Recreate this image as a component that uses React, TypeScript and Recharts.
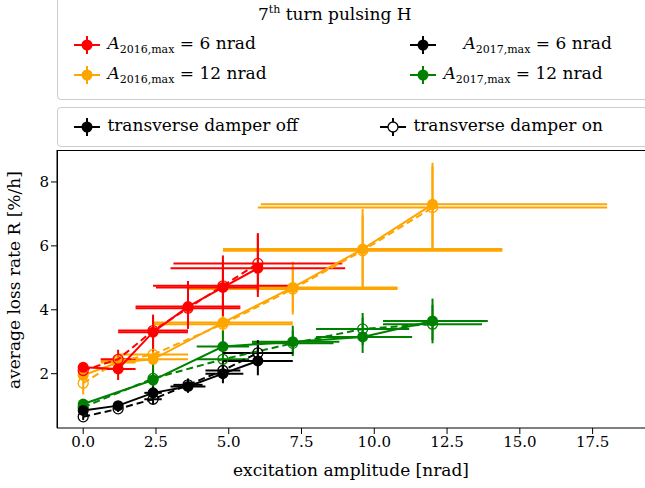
import React from 'react';
import { ComposedChart, Scatter, XAxis, YAxis, ErrorBar } from 'recharts';

const RED = '#ff0000', ORANGE = '#ffa500', GREEN = '#008000', BLACK = '#000000';
// x, y, xerr [lo,hi], yerr [lo,hi]
const red16Off = [
  [0, 2.2, 0, 0.12, 0.12], [1.2, 2.15, 0.6, 0.6, 0.35, 0.4], [2.4, 3.3, 1.2, 1.2, 0.6, 0.5],
  [3.6, 4.1, 1.8, 1.8, 0.7, 0.8], [4.8, 4.7, 2.3, 1.2, 0.9, 1.0], [6.0, 5.3, 3.0, 3.0, 0.9, 1.1],
];
const red16On = [
  [0, 2.1, 0, 0, 0.1, 0.1], [1.2, 2.45, 0.6, 0.6, 0.3, 0.3], [2.4, 3.35, 1.2, 1.2, 0.5, 0.5],
  [3.6, 4.05, 1.8, 1.8, 0.6, 0.6], [4.8, 4.75, 2.4, 2.4, 0.8, 0.8], [6.0, 5.45, 2.9, 2.9, 0.9, 0.9],
];
const or16Off = [
  [0, 1.95, 0, 0, 0.2, 0.2], [1.2, 2.35, 0.6, 0.6, 0.2, 0.2], [2.4, 2.45, 1.2, 1.2, 0.35, 0.45],
  [4.8, 3.6, 2.4, 2.4, 0.5, 1.2], [7.2, 4.7, 3.6, 3.6, 0.85, 0.8], [9.6, 5.9, 4.8, 4.8, 1.2, 1.25],
  [12.0, 7.3, 5.9, 6.0, 1.4, 1.3],
];
const or16On = [
  [0, 1.7, 0, 0, 0.35, 0.35], [1.2, 2.4, 0.6, 0.6, 0.2, 0.2], [2.4, 2.6, 1.2, 1.2, 0.3, 0.3],
  [4.8, 3.55, 2.4, 2.4, 0.4, 0.4], [7.2, 4.65, 3.6, 3.6, 0.7, 0.7], [9.6, 5.85, 4.8, 4.8, 1.1, 1.1],
  [12.0, 7.2, 6.0, 6.0, 1.3, 1.3],
];
const gr17Off = [
  [0, 1.05, 0, 0, 0.1, 0.1], [2.4, 1.8, 0, 0, 0.3, 0.55], [4.8, 2.85, 0.9, 0.9, 0.3, 0.5],
  [7.2, 3.0, 1.4, 1.6, 0.4, 0.5], [9.6, 3.15, 1.6, 1.7, 0.5, 0.6], [12.0, 3.65, 1.7, 1.9, 0.6, 0.7],
];
const gr17On = [
  [0, 0.95, 0, 0, 0.1, 0.1], [2.4, 1.85, 0, 0, 0.3, 0.3], [4.8, 2.45, 0.9, 0.9, 0.3, 0.3],
  [7.2, 2.95, 1.4, 1.4, 0.4, 0.4], [9.6, 3.4, 1.6, 1.6, 0.5, 0.5], [12.0, 3.55, 1.7, 1.7, 0.6, 0.6],
];
const bk17Off = [
  [0, 0.85, 0, 0, 0.1, 0.1], [1.2, 1.0, 0, 0, 0.1, 0.1], [2.4, 1.4, 0.3, 0.3, 0.2, 0.2],
  [3.6, 1.6, 0.6, 0.6, 0.2, 0.2], [4.8, 2.0, 0.6, 0.7, 0.3, 0.3], [6.0, 2.4, 1.2, 1.2, 0.45, 0.5],
];
const bk17On = [
  [0, 0.65, 0, 0, 0.1, 0.1], [1.2, 0.9, 0, 0, 0.1, 0.1], [2.4, 1.2, 0.3, 0.3, 0.15, 0.15],
  [3.6, 1.65, 0.5, 0.5, 0.2, 0.2], [4.8, 2.1, 0.6, 0.6, 0.3, 0.3], [6.0, 2.65, 1.2, 1.2, 0.4, 0.4],
];
const xTicks = [0, 2.5, 5, 7.5, 10, 12.5, 15, 17.5];
const yTicks = [2, 4, 6, 8];

const toRows = (a: number[][]) =>
  a.map((r) => r.length === 5
    ? { x: r[0], y: r[1], ex: [r[2], r[2]], ey: [r[3], r[4]] }
    : { x: r[0], y: r[1], ex: [r[2], r[3]], ey: [r[4], r[5]] });

const font = "'DejaVu Serif', serif";

const filled = (c: string) => (p: any) => <circle cx={p.cx} cy={p.cy} r={5.5} fill={c} />;
const open = (c: string) => (p: any) => <circle cx={p.cx} cy={p.cy} r={5} fill="none" stroke={c} strokeWidth={1.3} />;

const series = [
  { d: or16Off, c: ORANGE, on: false }, { d: or16On, c: ORANGE, on: true },
  { d: red16Off, c: RED, on: false }, { d: red16On, c: RED, on: true },
  { d: gr17Off, c: GREEN, on: false }, { d: gr17On, c: GREEN, on: true },
  { d: bk17Off, c: BLACK, on: false }, { d: bk17On, c: BLACK, on: true },
];

const Mark = ({ c, openM }: { c: string; openM?: boolean }) => (
  <svg width={30} height={20} style={{ verticalAlign: 'middle' }}>
    <line x1={2} x2={28} y1={10} y2={10} stroke={c} strokeWidth={2} />
    <line x1={15} x2={15} y1={1} y2={19} stroke={c} strokeWidth={2} />
    {openM ? <circle cx={15} cy={10} r={5} fill="white" stroke={c} strokeWidth={1.3} /> : <circle cx={15} cy={10} r={5.5} fill={c} />}
  </svg>
);

const A = ({ y, v }: { y: string; v: string }) => (
  <span><i>A</i><sub style={{ fontSize: 11 }}>{y},max</sub> = {v} nrad</span>
);

export default function App() {
  return (
    <div style={{ position: 'absolute', left: 0, top: 0, width: 645, height: 488, fontFamily: font, background: '#fff', overflow: 'hidden' }}>
      <div style={{ position: 'absolute', left: 57, top: -4, width: 600, height: 102, border: '1px solid #ccc', borderRadius: 4, fontSize: 17 }}>
        <div style={{ position: 'absolute', left: 200, top: 6 }}>7<sup style={{ fontSize: 11 }}>th</sup> turn pulsing H</div>
        <div style={{ position: 'absolute', left: 14, top: 36 }}><Mark c={RED} /> <A y="2016" v="6" /></div>
        <div style={{ position: 'absolute', left: 14, top: 66 }}><Mark c={ORANGE} /> <A y="2016" v="12" /></div>
        <div style={{ position: 'absolute', left: 350, top: 36 }}><Mark c={BLACK} /> <span style={{ marginLeft: 20 }}><A y="2017" v="6" /></span></div>
        <div style={{ position: 'absolute', left: 350, top: 66 }}><Mark c={GREEN} /> <A y="2017" v="12" /></div>
      </div>
      <div style={{ position: 'absolute', left: 57, top: 107, width: 600, height: 38, border: '1px solid #ccc', borderRadius: 4, fontSize: 17 }}>
        <div style={{ position: 'absolute', left: 14, top: 7 }}><Mark c={BLACK} /> transverse damper off</div>
        <div style={{ position: 'absolute', left: 320, top: 7 }}><Mark c={BLACK} openM /> transverse damper on</div>
      </div>
      <ComposedChart width={645} height={488} margin={{ top: 150, right: 0, bottom: 30, left: 0 }} style={{ position: 'absolute', left: 0, top: 0 }}>
        <XAxis type="number" dataKey="x" domain={[-0.9, 19.3]} ticks={xTicks} allowDataOverflow height={30}
          tickFormatter={(v: number) => v.toFixed(1)} stroke="#000" tick={{ fill: '#000', fontSize: 15, fontFamily: font }}
          label={{ value: 'excitation amplitude [nrad]', position: 'insideBottom', offset: -18, fill: '#000', fontSize: 17, fontFamily: font, dx: 0 }} />
        <YAxis type="number" dataKey="y" domain={[0.3, 9.0]} ticks={yTicks} allowDataOverflow width={57}
          stroke="#000" tick={{ fill: '#000', fontSize: 15, fontFamily: font }}
          label={{ value: 'average loss rate R [%/h]', angle: -90, position: 'insideLeft', offset: 14, fill: '#000', fontSize: 17, fontFamily: font, dy: 100 }} />
        {series.map((s, i) => (
          <Scatter key={i} data={toRows(s.d)} fill={s.c} isAnimationActive={false}
            line={{ stroke: s.c, strokeWidth: 2, strokeDasharray: s.on ? '7 4' : undefined }}
            shape={s.on ? open(s.c) : filled(s.c)}>
            <ErrorBar dataKey="ex" direction="x" stroke={s.c} strokeWidth={2} width={0} />
            <ErrorBar dataKey="ey" direction="y" stroke={s.c} strokeWidth={2} width={0} />
          </Scatter>
        ))}
      </ComposedChart>
      <div style={{ position: 'absolute', left: 57, top: 150, width: 600, height: 278, border: '1px solid #000', borderBottom: 'none', pointerEvents: 'none', boxSizing: 'border-box' }} />
    </div>
  );
}
